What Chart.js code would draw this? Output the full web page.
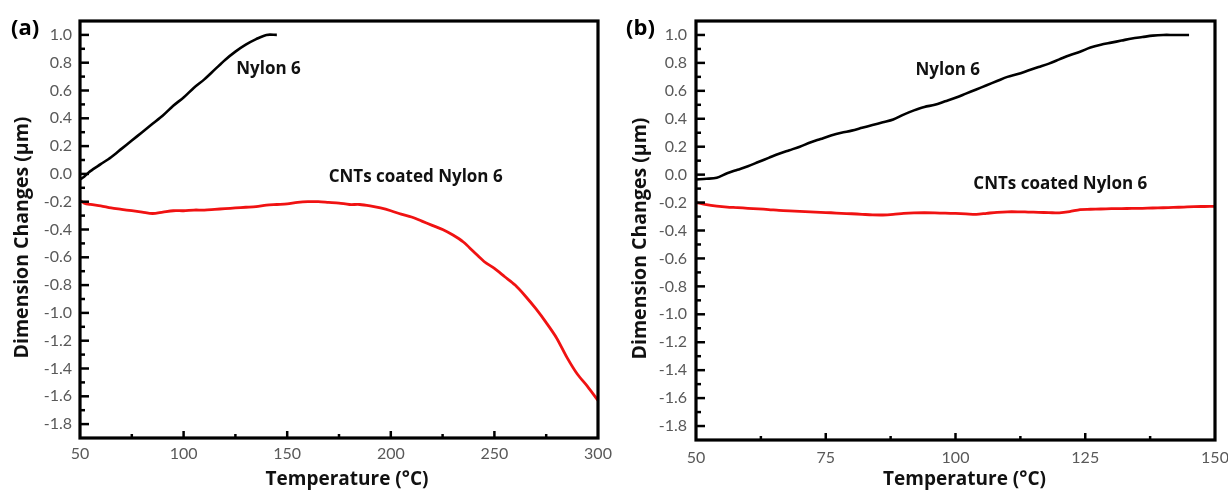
<!DOCTYPE html>
<html><head><meta charset="utf-8">
<script src="https://cdn.jsdelivr.net/npm/chart.js@4/dist/chart.umd.min.js"></script>
<style>
html,body{margin:0;padding:0;background:#fff;}
#wrap{position:relative;width:1228px;height:491px;overflow:hidden;background:#fff;}
#ca{position:absolute;left:0;top:0;}
#cb{position:absolute;left:610px;top:0;}
</style></head><body>
<div id="wrap">
<canvas id="cb" width="618" height="491"></canvas>
<canvas id="ca" width="616" height="491"></canvas>
</div>
<script>
// ---------- data ----------
const yTicks = [-1.8,-1.6,-1.4,-1.2,-1.0,-0.8,-0.6,-0.4,-0.2,0.0,0.2,0.4,0.6,0.8,1.0];
const xTicksA = [50,100,150,200,250,300];
const xTicksB = [50,75,100,125,150];

// Panel (a)
const nylonTempA = [50,52,55,60,65,70,75,80,85,90,95,100,105,110,115,120,125,130,135,140,145];
const nylonA     = [-0.04,-0.02,0.02,0.07,0.12,0.18,0.24,0.30,0.36,0.42,0.49,0.55,0.62,0.68,0.75,0.82,0.88,0.93,0.97,1.0,1.0];
const cntTempA = [50,52,55,60,65,70,75,80,85,90,95,100,105,110,115,120,125,130,135,140,145,150,155,160,165,170,175,180,185,190,195,200,205,210,215,220,225,230,235,240,245,250,255,260,265,270,275,280,285,290,295,300];
const cntA     = [-0.19,-0.21,-0.22,-0.23,-0.245,-0.255,-0.265,-0.275,-0.285,-0.275,-0.265,-0.265,-0.26,-0.26,-0.255,-0.25,-0.245,-0.24,-0.235,-0.225,-0.22,-0.215,-0.205,-0.20,-0.20,-0.205,-0.21,-0.22,-0.22,-0.23,-0.245,-0.265,-0.29,-0.31,-0.34,-0.37,-0.40,-0.44,-0.49,-0.56,-0.63,-0.68,-0.74,-0.80,-0.88,-0.97,-1.07,-1.18,-1.32,-1.44,-1.53,-1.63];

// Panel (b)
const nylonTempB = [50,52,54,56,58,60,62,64,66,68,70,72,74,76,78,80,82,84,86,88,90,92,94,96,98,100,102,104,106,108,110,112,114,116,118,120,122,124,126,128,130,132,134,136,138,140,142,145];
const nylonB     = [-0.035,-0.03,-0.022,0.01,0.035,0.06,0.09,0.12,0.15,0.175,0.20,0.23,0.255,0.28,0.30,0.315,0.335,0.355,0.375,0.395,0.43,0.46,0.485,0.50,0.525,0.55,0.58,0.61,0.64,0.67,0.70,0.72,0.745,0.77,0.795,0.825,0.855,0.88,0.91,0.93,0.945,0.96,0.975,0.985,0.995,1.0,1.0,1.0];
const cntTempB = [50,52,54,56,58,60,62,64,66,68,70,72,74,76,78,80,82,84,86,88,90,92,94,96,98,100,102,104,106,108,110,112,114,116,118,120,122,124,126,128,130,132,134,136,138,140,142,144,146,148,150];
const cntB     = [-0.20,-0.215,-0.225,-0.232,-0.236,-0.241,-0.245,-0.25,-0.256,-0.26,-0.263,-0.266,-0.27,-0.273,-0.277,-0.28,-0.284,-0.288,-0.289,-0.285,-0.278,-0.274,-0.273,-0.274,-0.276,-0.278,-0.281,-0.284,-0.277,-0.27,-0.266,-0.266,-0.268,-0.27,-0.272,-0.274,-0.265,-0.25,-0.248,-0.246,-0.244,-0.243,-0.242,-0.241,-0.239,-0.237,-0.235,-0.232,-0.229,-0.228,-0.227];

const seriesNames = ['Nylon 6','CNTs coated Nylon 6'];
const panelLabels = ['(a)','(b)'];
const xTitle = 'Temperature (°C)';
const yTitle = 'Dimension Changes (μm)';

// annotation anchor points (data coordinates)
const annotA = [{text:seriesNames[0], x:141, y:0.75},{text:seriesNames[1], x:212, y:-0.02}];
const annotB = [{text:seriesNames[0], x:98.5, y:0.75},{text:seriesNames[1], x:120.2, y:-0.07}];

// ---------- helpers ----------
const TICKFONT = 'Lato, "Open Sans", sans-serif';
const BOLDFONT = '"Open Sans", Lato, sans-serif';
const toPts = (xs, ys) => xs.map((v,i)=>({x:v, y:ys[i]}));

const framePlugin = {
  id:'frame',
  afterDatasetsDraw(chart, args, opts){
    const {ctx, chartArea:a, scales:{x,y}} = chart;
    ctx.save();
    ctx.strokeStyle = '#000';
    ctx.lineCap = 'butt';
    // inward ticks
    ctx.lineWidth = 2.5;
    const ln = (x1,y1,x2,y2)=>{ctx.beginPath();ctx.moveTo(x1,y1);ctx.lineTo(x2,y2);ctx.stroke();};
    const yv = y.ticks.map(t=>t.value);
    yv.forEach(v=>{const p=y.getPixelForValue(v); ln(a.left, p, a.left+9, p);});
    for(let i=0;i<yv.length-1;i++){const p=y.getPixelForValue((yv[i]+yv[i+1])/2); ln(a.left,p,a.left+5,p);}
    const xv = x.ticks.map(t=>t.value);
    xv.forEach((v,i)=>{ if(i===0||i===xv.length-1) return; const p=x.getPixelForValue(v); ln(p,a.bottom,p,a.bottom-7);});
    for(let i=0;i<xv.length-1;i++){const p=x.getPixelForValue((xv[i]+xv[i+1])/2); ln(p,a.bottom,p,a.bottom-4);}
    // frame
    ctx.lineWidth = 3.2;
    ctx.strokeRect(a.left, a.top, a.right-a.left, a.bottom-a.top);
    // annotations
    ctx.fillStyle = '#111';
    ctx.font = 'bold 17px ' + BOLDFONT;
    ctx.textAlign = 'center';
    ctx.textBaseline = 'middle';
    (opts.annots||[]).forEach(an=>{
      ctx.fillText(an.text, x.getPixelForValue(an.x), y.getPixelForValue(an.y));
    });
    // axis titles
    ctx.textBaseline = 'alphabetic';
    ctx.font = 'bold 19px ' + BOLDFONT;
    ctx.fillText(xTitle, (a.left+a.right)/2 + opts.xtDx, opts.xtY);
    ctx.save();
    ctx.translate(opts.ytX, (a.top+a.bottom)/2 + opts.ytDy);
    ctx.rotate(-Math.PI/2);
    ctx.font = 'bold 19.5px ' + BOLDFONT;
    ctx.fillText(yTitle, 0, 0);
    ctx.restore();
    // panel label
    ctx.font = 'bold 22px ' + BOLDFONT;
    ctx.textAlign = 'left';
    ctx.textBaseline = 'middle';
    ctx.fillStyle = '#000';
    ctx.fillText(opts.label, opts.lx, 29);
    ctx.restore();
  }
};

function makeChart(id, cfg){
  return new Chart(document.getElementById(id), {
    type:'line',
    data:{datasets:[
      {label:seriesNames[0], data:cfg.nylon, borderColor:'#000', borderWidth:2.6, pointRadius:0, tension:0.3, fill:false},
      {label:seriesNames[1], data:cfg.cnt, borderColor:'#f01212', borderWidth:2.8, pointRadius:0, tension:0.3, fill:false}
    ]},
    options:{
      responsive:false, animation:false, events:[],
      layout:{padding:{left:0, top:cfg.top, right:cfg.right, bottom:0}},
      plugins:{legend:{display:false}, tooltip:{enabled:false},
        frame:{annots:cfg.annots, label:cfg.label, lx:cfg.lx, xtDx:cfg.xtDx, xtY:485, ytX:cfg.ytX, ytDy:cfg.ytDy}},
      scales:{
        x:{type:'linear', min:cfg.xmin, max:cfg.xmax,
          afterBuildTicks:s=>{s.ticks = cfg.xTicks.map(v=>({value:v}));},
          afterFit:s=>{s.height = cfg.xh; s.paddingLeft=0; s.paddingRight=0;},
          grid:{display:false, drawTicks:false}, border:{display:false},
          ticks:{autoSkip:false, maxRotation:0, padding:cfg.xpad, color:'#595959', font:{family:TICKFONT, size:16},
            callback:v=>String(v)},
          title:{display:false}
        },
        y:{type:'linear', min:-1.9, max:1.1,
          afterBuildTicks:s=>{s.ticks = yTicks.map(v=>({value:v}));},
          afterFit:s=>{s.width = cfg.yw; s.paddingTop=0; s.paddingBottom=0;},
          grid:{display:false, drawTicks:false}, border:{display:false},
          ticks:{autoSkip:false, padding:cfg.ypad, color:'#595959', font:{family:TICKFONT, size:16},
            callback:v=>Number(v).toFixed(1)},
          title:{display:false}
        }
      }
    },
    plugins:[framePlugin]
  });
}

makeChart('ca', {nylon:toPts(nylonTempA,nylonA), cnt:toPts(cntTempA,cntA), xmin:50, xmax:300, xTicks:xTicksA,
  top:21, right:18, xh:53, yw:80, xpad:6, ypad:8, annots:annotA, label:panelLabels[0], lx:11,
  xtDx:8, ytX:28, ytDy:8});
makeChart('cb', {nylon:toPts(nylonTempB,nylonB), cnt:toPts(cntTempB,cntB), xmin:50, xmax:150, xTicks:xTicksB,
  top:21, right:13, xh:51, yw:86, xpad:8, ypad:9, annots:annotB, label:panelLabels[1], lx:16,
  xtDx:9, ytX:36, ytDy:8});
</script>
</body></html>
